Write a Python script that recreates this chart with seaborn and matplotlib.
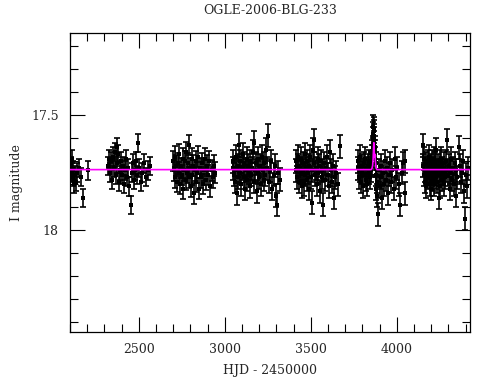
import numpy as np
import pandas as pd
import matplotlib
matplotlib.use("Agg")
import matplotlib.pyplot as plt
import seaborn as sns
from matplotlib.ticker import MultipleLocator

# OGLE-2006-BLG-233 light curve
# one list per observing season: HJD-2450000, I mag, typical error
t1 = [2108, 2111, 2114, 2117, 2120, 2124, 2128, 2133, 2140, 2152, 2165, 2178, 2207]
m1 = [17.72, 17.75, 17.69, 17.77, 17.74, 17.80, 17.76, 17.79, 17.75, 17.73, 17.77, 17.86, 17.74]
e1 = 0.04

t2 = [2322, 2327, 2333, 2340, 2346, 2352, 2358, 2363, 2368, 2371, 2376, 2381, 2386,
      2392, 2398, 2404, 2410, 2416, 2421, 2427, 2433, 2439, 2445, 2452, 2458, 2464,
      2470, 2476, 2482, 2489, 2496, 2503, 2511, 2520, 2530, 2541, 2552, 2563]
m2 = [17.72, 17.69, 17.75, 17.70, 17.78, 17.68, 17.73, 17.66, 17.76, 17.64, 17.71, 17.67, 17.79,
      17.74, 17.70, 17.76, 17.72, 17.80, 17.74, 17.69, 17.77, 17.73, 17.81, 17.89, 17.75, 17.71,
      17.78, 17.74, 17.70, 17.76, 17.62, 17.73, 17.79, 17.75, 17.71, 17.77, 17.74, 17.72]
e2 = 0.04

t3 = [2700, 2704, 2709, 2713, 2718, 2722, 2727, 2731, 2736, 2740, 2745, 2750, 2754,
      2759, 2763, 2768, 2772, 2777, 2781, 2786, 2789, 2794, 2798, 2803, 2807, 2812,
      2816, 2821, 2826, 2830, 2835, 2840, 2845, 2850, 2856, 2861, 2867, 2872, 2878,
      2884, 2890, 2896, 2902, 2909, 2916, 2923, 2930, 2937, 2944]
m3 = [17.70, 17.74, 17.68, 17.77, 17.72, 17.79, 17.71, 17.75, 17.67, 17.80, 17.73, 17.76, 17.69,
      17.82, 17.74, 17.70, 17.78, 17.66, 17.75, 17.71, 17.63, 17.77, 17.73, 17.81, 17.69, 17.76,
      17.72, 17.84, 17.74, 17.70, 17.79, 17.75, 17.68, 17.82, 17.73, 17.77, 17.71, 17.80, 17.74,
      17.69, 17.78, 17.72, 17.76, 17.70, 17.81, 17.74, 17.77, 17.72, 17.75]
e3 = 0.045

t4 = [3046, 3050, 3054, 3058, 3062, 3066, 3070, 3074, 3078, 3082, 3087, 3091, 3095, 3100,
      3104, 3109, 3113, 3118, 3122, 3127, 3131, 3136, 3140, 3145, 3149, 3154, 3158, 3163,
      3167, 3172, 3176, 3181, 3185, 3190, 3195, 3200, 3205, 3210, 3215, 3220, 3225, 3230,
      3236, 3241, 3247, 3252, 3258, 3264, 3270, 3276, 3283, 3290, 3297, 3304, 3311, 3318]
m4 = [17.73, 17.70, 17.76, 17.79, 17.68, 17.74, 17.84, 17.72, 17.77, 17.63, 17.75, 17.70, 17.80, 17.73,
      17.67, 17.77, 17.71, 17.82, 17.74, 17.69, 17.78, 17.72, 17.75, 17.81, 17.70, 17.76, 17.73, 17.66,
      17.62, 17.79, 17.74, 17.71, 17.83, 17.75, 17.69, 17.77, 17.72, 17.80, 17.68, 17.74, 17.78, 17.71,
      17.76, 17.65, 17.73, 17.59, 17.79, 17.74, 17.70, 17.82, 17.76, 17.72, 17.85, 17.89, 17.75, 17.78]
e4 = 0.05

t5 = [3412, 3416, 3420, 3424, 3428, 3432, 3436, 3440, 3444, 3448, 3452, 3456, 3460, 3464,
      3468, 3472, 3476, 3480, 3484, 3488, 3492, 3496, 3500, 3504, 3508, 3512, 3516, 3521,
      3525, 3530, 3534, 3539, 3543, 3548, 3552, 3557, 3562, 3567, 3572, 3577, 3582, 3587,
      3592, 3597, 3603, 3609, 3615, 3621, 3628, 3634, 3641, 3648, 3656, 3668]
m5 = [17.74, 17.70, 17.77, 17.72, 17.68, 17.79, 17.73, 17.75, 17.69, 17.81, 17.74, 17.71, 17.80, 17.76,
      17.67, 17.73, 17.78, 17.70, 17.75, 17.82, 17.72, 17.68, 17.77, 17.74, 17.88, 17.65, 17.71, 17.61,
      17.76, 17.73, 17.80, 17.69, 17.75, 17.72, 17.83, 17.70, 17.77, 17.74, 17.89, 17.71, 17.78, 17.73,
      17.68, 17.76, 17.81, 17.66, 17.74, 17.79, 17.72, 17.86, 17.77, 17.75, 17.80, 17.635]
e5 = 0.05

t6 = [3772, 3776, 3780, 3784, 3788, 3792, 3796, 3800, 3804, 3808, 3812, 3816, 3820, 3824,
      3828, 3832, 3836, 3840, 3844, 3848, 3851, 3854, 3856, 3858, 3860, 3862, 3863, 3864,
      3865, 3866, 3867, 3868, 3869, 3870, 3872, 3874, 3876, 3878, 3881, 3884, 3887, 3892,
      3896, 3900, 3905, 3910, 3915, 3920, 3925, 3930, 3936, 3942, 3948, 3954, 3960, 3967,
      3974, 3981, 3988, 3995, 4003, 4011, 4021, 4030, 4038, 4045, 4048]
m6 = [17.73, 17.70, 17.77, 17.74, 17.68, 17.79, 17.72, 17.75, 17.81, 17.71, 17.76, 17.69, 17.78, 17.73,
      17.80, 17.72, 17.75, 17.70, 17.77, 17.74, 17.71, 17.68, 17.72, 17.66, 17.64, 17.60, 17.58, 17.55,
      17.57, 17.56, 17.59, 17.62, 17.60, 17.64, 17.66, 17.69, 17.71, 17.76, 17.82, 17.85, 17.79, 17.93,
      17.74, 17.81, 17.77, 17.72, 17.86, 17.75, 17.80, 17.70, 17.78, 17.73, 17.84, 17.76, 17.71, 17.79,
      17.74, 17.82, 17.69, 17.77, 17.73, 17.80, 17.89, 17.75, 17.71, 17.84, 17.70]
e6 = 0.05

t7 = [4151, 4154, 4157, 4160, 4163, 4166, 4169, 4172, 4175, 4178, 4181, 4184, 4187, 4190,
      4193, 4196, 4199, 4202, 4205, 4208, 4211, 4214, 4217, 4220, 4223, 4226, 4229, 4232,
      4235, 4238, 4242, 4245, 4248, 4251, 4255, 4258, 4262, 4265, 4269, 4272, 4276, 4280,
      4284, 4288, 4293, 4297, 4301, 4306, 4310, 4315, 4320, 4325, 4330, 4335, 4341, 4346,
      4352, 4359, 4365, 4371, 4377, 4383, 4389, 4396, 4402, 4408, 4414]
m7 = [17.63, 17.72, 17.76, 17.69, 17.79, 17.74, 17.71, 17.81, 17.75, 17.70, 17.77, 17.73, 17.68, 17.80,
      17.74, 17.82, 17.72, 17.76, 17.70, 17.78, 17.73, 17.69, 17.80, 17.75, 17.71, 17.77, 17.65, 17.74,
      17.79, 17.72, 17.86, 17.76, 17.70, 17.81, 17.74, 17.69, 17.78, 17.73, 17.75, 17.80, 17.71, 17.77,
      17.74, 17.70, 17.61, 17.76, 17.72, 17.82, 17.75, 17.69, 17.78, 17.73, 17.80, 17.71, 17.85, 17.74,
      17.77, 17.64, 17.72, 17.79, 17.75, 17.70, 17.83, 17.95, 17.76, 17.81, 17.73]
e7 = 0.05

# model curve (magenta): flat baseline with a short bump
model_t = [2100, 3850, 3855, 3859, 3862, 3864, 3866, 3868, 3870, 3872, 3875, 3879, 3884, 4425]
model_m = [17.737, 17.737, 17.733, 17.72, 17.69, 17.65, 17.62, 17.66, 17.68, 17.67, 17.70, 17.73, 17.737, 17.737]

seasons = [(t1, m1, e1), (t2, m2, e2), (t3, m3, e3), (t4, m4, e4),
           (t5, m5, e5), (t6, m6, e6), (t7, m7, e7)]
df = pd.concat([pd.DataFrame({'hjd': t, 'mag': m, 'err': e}) for t, m, e in seasons],
               ignore_index=True)
model = pd.DataFrame({'hjd': model_t, 'mag': model_m})

sns.set_style('ticks')
plt.rcParams['font.family'] = ['DejaVu Serif']

fig = plt.figure(figsize=(4.9, 3.8), dpi=100)
ax = fig.add_axes([70 / 490, 1 - 332 / 380, 400 / 490, 299 / 380])

ax.errorbar(df['hjd'], df['mag'], yerr=df['err'], fmt='none', ecolor='black',
            elinewidth=1.2, capsize=2.4, capthick=1.2, zorder=2)
sns.scatterplot(data=df, x='hjd', y='mag', ax=ax, color='black', marker='s',
                s=12, linewidth=0, zorder=3, legend=False)
sns.lineplot(data=model, x='hjd', y='mag', ax=ax, color='#ff00ff', lw=1.2,
             sort=False, estimator=None, zorder=4)

ax.set_xlim(2100, 4425)
ax.set_ylim(18.443, 17.143)
ax.xaxis.set_major_locator(MultipleLocator(500))
ax.xaxis.set_minor_locator(MultipleLocator(100))
ax.yaxis.set_major_locator(MultipleLocator(0.5))
ax.yaxis.set_minor_locator(MultipleLocator(0.1))
ax.set_yticks([17.5, 18.0])
ax.set_yticklabels(['17.5', '18'])
ax.tick_params(which='both', direction='in', top=True, right=True, width=0.8,
               color='black', labelsize=9, pad=8)
ax.tick_params(which='major', length=11)
ax.tick_params(which='minor', length=5.5)
for sp in ax.spines.values():
    sp.set_linewidth(0.9)
    sp.set_color('black')

ax.set_title('OGLE-2006-BLG-233', fontsize=9, pad=14)
ax.set_xlabel('HJD - 2450000', fontsize=9, labelpad=6)
ax.set_ylabel('I magnitude', fontsize=9, labelpad=6)

fig.savefig('out.png', dpi=100)
